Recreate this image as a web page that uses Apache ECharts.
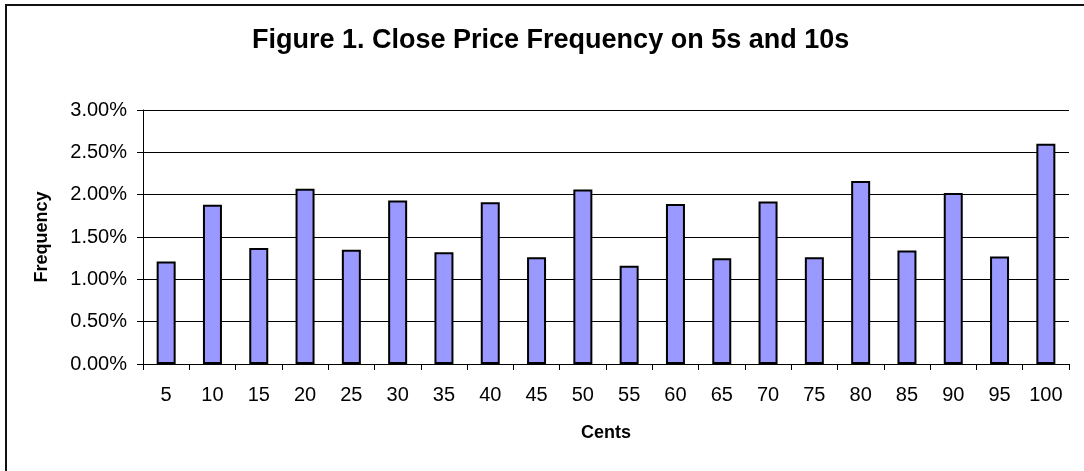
<!DOCTYPE html>
<html>
<head>
<meta charset="utf-8">
<script src="https://cdn.jsdelivr.net/npm/echarts@6/dist/echarts.min.js"></script>
<style>
html,body{margin:0;padding:0;background:#fff;}
#chart{width:1084px;height:471px;}
</style>
</head>
<body>
<div id="chart"></div>
<script>
var categories = ['5','10','15','20','25','30','35','40','45','50','55','60','65','70','75','80','85','90','95','100'];
var frequency = [1.21,1.88,1.37,2.07,1.35,1.93,1.32,1.91,1.26,2.06,1.16,1.89,1.25,1.92,1.26,2.16,1.34,2.02,1.27,2.60];
var yTicks = {min:0, max:3, interval:0.5};

var chart = echarts.init(document.getElementById('chart'), null, {renderer:'canvas'});
var font = '"Liberation Sans", Arial, sans-serif';
chart.setOption({
  animation:false,
  backgroundColor:'#fff',
  graphic:[{
    type:'rect', shape:{x:6, y:5, width:1200, height:600},
    style:{fill:'none', stroke:'#111', lineWidth:2}, silent:true
  }],
  title:{
    text:'Figure 1. Close Price Frequency on 5s and 10s',
    left:247, top:22,
    textStyle:{fontFamily:font, fontSize:27, fontWeight:'bold', color:'#000'}
  },
  grid:{left:143, right:15, top:110, bottom:107, containLabel:false},
  xAxis:{
    type:'category', data:categories, boundaryGap:true,
    name:'Cents', nameLocation:'middle', nameGap:60,
    nameTextStyle:{fontFamily:font, fontSize:18, fontWeight:'bold', color:'#000'},
    axisLine:{lineStyle:{color:'#000', width:1}},
    axisTick:{show:true, inside:false, length:6, alignWithLabel:false, lineStyle:{color:'#000'}},
    axisLabel:{fontFamily:font, fontSize:20, color:'#000', margin:21, interval:0},
    splitLine:{show:false}
  },
  yAxis:{
    type:'value', min:yTicks.min, max:yTicks.max, interval:yTicks.interval,
    name:'Frequency', nameLocation:'middle', nameGap:92, nameRotate:90,
    nameTextStyle:{fontFamily:font, fontSize:18, fontWeight:'bold', color:'#000'},
    axisLine:{show:true, lineStyle:{color:'#000', width:1}},
    axisTick:{show:true, inside:false, length:6, lineStyle:{color:'#000'}},
    axisLabel:{fontFamily:font, fontSize:20, color:'#000', margin:16,
      formatter:function(v){return v.toFixed(2)+'%';}},
    splitLine:{show:true, lineStyle:{color:'#000', width:1}}
  },
  series:[{
    type:'bar', data:frequency, barWidth:19,
    itemStyle:{color:'#9999FF', borderColor:'#000', borderWidth:2}
  }]
});
</script>
</body>
</html>
